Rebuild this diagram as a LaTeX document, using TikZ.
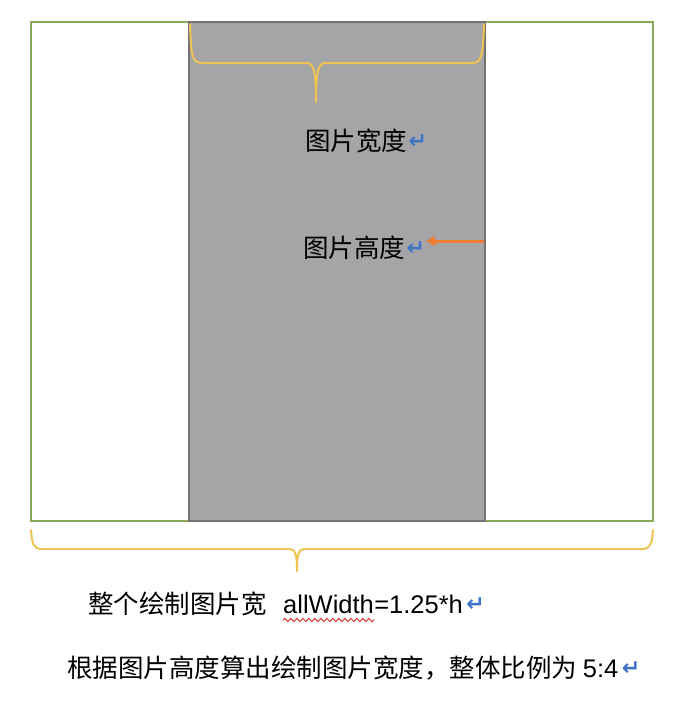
\documentclass[tikz,border=0pt]{standalone}
\usepackage{fontspec}
\setmainfont{Liberation Sans}
\newfontfamily\cjk{Noto Sans CJK SC}
\newfontfamily\symf{DejaVu Sans}
\usetikzlibrary{decorations.pathmorphing,arrows.meta}
\definecolor{frameg}{HTML}{8AA95C}
\definecolor{grayfill}{HTML}{A5A4A6}
\definecolor{grayline}{HTML}{747275}
\definecolor{bracec}{HTML}{F0C454}
\definecolor{arrowo}{HTML}{ED7D31}
\definecolor{retb}{HTML}{3F73C8}
\definecolor{wavyr}{HTML}{D9413A}
\tikzset{
  txt/.style={inner sep=0pt, anchor=base west, font=\fontsize{25.5}{30}\selectfont},
  retmark/.style={inner sep=0pt, anchor=base west, text=retb, font=\symf\bfseries\fontsize{22}{24}\selectfont},
  bracestyle/.style={draw=bracec, line width=2pt, line join=round, line cap=round},
}
\begin{document}
\begin{tikzpicture}[x=1pt,y=-1pt]
\useasboundingbox (0,0) rectangle (688,716);
\fill[white] (0,0) rectangle (688,716);
% outer frame and image
\draw[frameg, line width=1.5pt] (31,22) rectangle (653,521);
\draw[grayline, fill=grayfill, line width=1.5pt] (189,22) rectangle (485,521);
% top brace
\draw[bracestyle] (190,24) .. controls (191,55) and (192,63) .. (202,63)
  -- (306,63) .. controls (313,63) and (316,68) .. (316,102)
  .. controls (316,68) and (319,63) .. (326,63)
  -- (472,63) .. controls (482,63) and (483,55) .. (484,24);
% texts in image
\node[txt] (tw) at (305,150) {\cjk 图片宽度};
\node[retmark] (rw) at ([xshift=1pt,yshift=2pt]tw.base east) {↵};
\node[txt] (th) at (303,257) {\cjk 图片高度};
\node[retmark] (rh) at ([xshift=1pt,yshift=2pt]th.base east) {↵};
\coordinate (ar) at (484,241);
\draw[arrowo, line width=3pt, -{Triangle[length=9pt,width=10pt]}] (ar) -- ([xshift=1pt]rh.east |- ar);
% bottom brace
\draw[bracestyle] (31,530) .. controls (32,543) and (33,549) .. (42,549)
  -- (289,549) .. controls (295,549) and (297,553) .. (297,571)
  .. controls (297,553) and (299,549) .. (305,549)
  -- (642,549) .. controls (651,549) and (652,543) .. (653,530);
% bottom texts
\node[txt] (l1) at (88,613) {\cjk 整个绘制图片宽};
\node[txt] (aw) at (283,613) {allWidth};
\node[txt] (eq) at (aw.base east) {=1.25*h};
\node[retmark] (r1) at ([xshift=3pt,yshift=2pt]eq.base east) {↵};
\draw[wavyr, line width=1.1pt, decorate, decoration={snake, amplitude=1.6pt, segment length=6pt}]
  ([yshift=-7pt]aw.base west) -- ([yshift=-7pt]aw.base east);
\node[txt] (l2) at (67,677) {\cjk 根据图片高度算出绘制图片宽度，整体比例为 \rmfamily 5:4};
\node[retmark] (r2) at ([xshift=3pt,yshift=2pt]l2.base east) {↵};
\end{tikzpicture}
\end{document}
